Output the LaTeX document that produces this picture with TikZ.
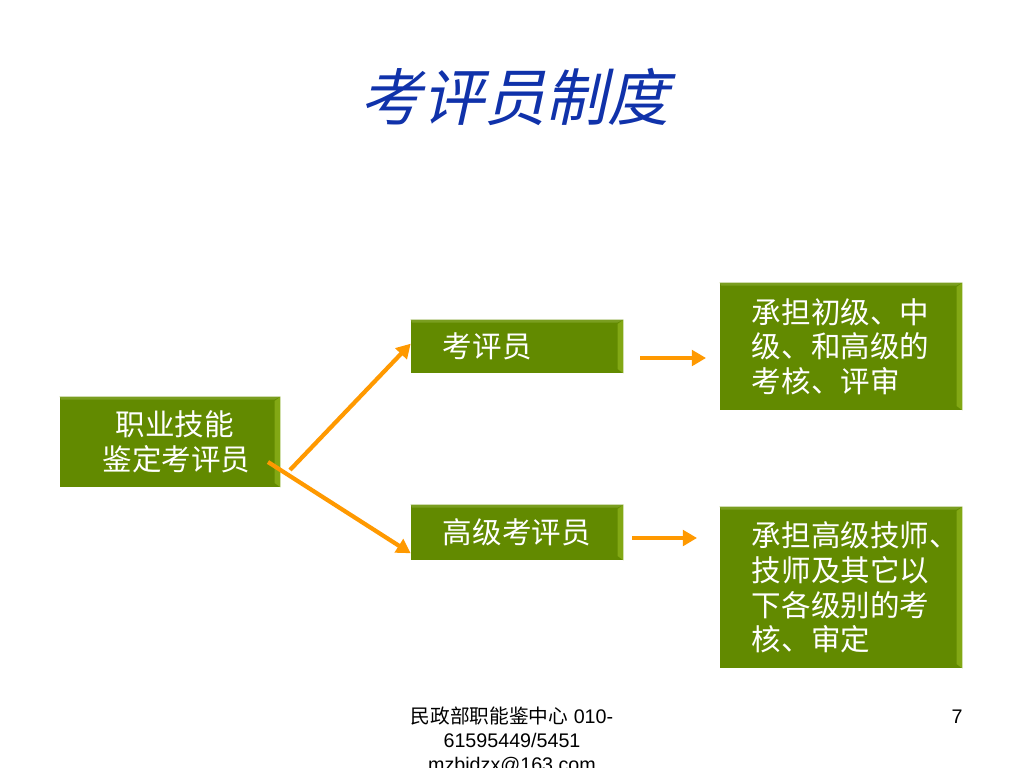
\documentclass[tikz,border=0pt]{standalone}
\usepackage{fontspec}
\setmainfont{Liberation Sans}
\newfontfamily\cjk{Noto Sans CJK SC}
\newfontfamily\cjkslant[FakeSlant=0.22]{Noto Sans CJK SC}
\usetikzlibrary{arrows.meta}
\definecolor{titleblue}{RGB}{16,50,170}
\definecolor{boxgreen}{RGB}{98,138,0}
\definecolor{boxside}{RGB}{130,168,20}
\definecolor{boxtop}{RGB}{122,158,32}
\definecolor{arroworange}{RGB}{255,153,0}

\begin{document}
\begin{tikzpicture}[x=0.025cm,y=-0.025cm,
    greenbox/.style={fill=boxgreen, text=white, inner sep=0pt, font=\cjk\fontsize{21}{24.6}\selectfont},
    orangearrow/.style={draw=arroworange, line width=3pt, -{Triangle[length=10pt,width=11pt]}},
    footer/.style={font=\fontsize{14}{17}\selectfont, align=center}]
    %\draw [help lines, step=50] (0,0) grid (1024,768);
    \fill [white] (0,0) rectangle (1024,768);
    \useasboundingbox (0,0) rectangle (1024,768);

    %title
    \node [text=titleblue, font=\cjkslant\fontsize{44}{52}\selectfont] (title) at (515,97) {考评员制度};

    %boxes
    \node [greenbox, minimum width=5.5cm, minimum height=2.25cm, text width=3.85cm, align=center] (jd) at (170,442) {\hspace*{7pt}职业技能\\\hspace*{7pt}鉴定考评员};
    \node [greenbox, minimum width=5.3cm, minimum height=1.325cm, text width=3.7cm, align=left] (kp) at (517,346.5) {考评员};
    \node [greenbox, minimum width=5.3cm, minimum height=1.375cm, text width=3.7cm, align=left] (gj) at (517,532.5) {高级考评员};
    \node [greenbox, minimum width=6.05cm, minimum height=3.175cm, text width=4.45cm, align=left] (r1) at (841,346.5) {承担初级、中\\级、和高级的\\考核、评审};
    \node [greenbox, minimum width=6.05cm, minimum height=4.025cm, text width=4.45cm, align=left] (r2) at (841,587.5) {承担高级技师、\\技师及其它以\\下各级别的考\\核、审定};

    %bevels
    \foreach \n in {jd,kp,gj,r1,r2} {
        \fill [boxside] (\n.north east) -- (\n.south east) -- ([xshift=-4pt,yshift=3pt]\n.south east) -- ([xshift=-4pt,yshift=-3pt]\n.north east) -- cycle;
        \fill [boxtop] (\n.north west) -- (\n.north east) -- ([xshift=-4pt,yshift=-2pt]\n.north east) -- ([xshift=1pt,yshift=-2pt]\n.north west) -- cycle;
    }

    %arrows
    \coordinate (s1) at (290,470);
    \coordinate (s2) at (268,462);
    \draw [orangearrow] (s1) -- ([yshift=2pt]kp.west);
    \draw [orangearrow] (s2) -- ([yshift=5pt]gj.south west);

    \coordinate (h1s) at (640,358);
    \coordinate (h1e) at (706,358);
    \coordinate (h2s) at (632,538);
    \coordinate (h2e) at (697,538);
    \draw [orangearrow] (h1s) -- (h1e);
    \draw [orangearrow] (h2s) -- (h2e);

    %footer
    \node [footer] (ft) at (512,741) {{\cjk 民政部职能鉴中心} 010-\\61595449/5451\\mzbjdzx@163.com};
    \node [footer] (pg) at (957,717) {7};
\end{tikzpicture}
\end{document}
